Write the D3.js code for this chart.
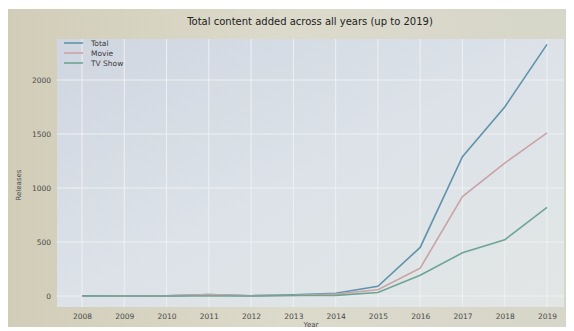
<!DOCTYPE html>
<html><head><meta charset="utf-8">
<script src="https://cdn.jsdelivr.net/npm/d3@7"></script>
<style>html,body{margin:0;padding:0;background:#fff;}svg{display:block;}</style>
</head><body>
<svg id="chart" width="574" height="331"></svg>
<script>
const years = [2008, 2009, 2010, 2011, 2012, 2013, 2014, 2015, 2016, 2017, 2018, 2019];
const totalValues = [2, 2, 1, 13, 3, 11, 25, 90, 450, 1290, 1750, 2330];
const movieValues = [1, 2, 1, 13, 3, 6, 19, 58, 258, 920, 1230, 1510];
const tvValues = [1, 0, 0, 0, 0, 5, 6, 32, 192, 400, 520, 820];
const yTicks = [0, 500, 1000, 1500, 2000];
const seriesNames = ["Total", "Movie", "TV Show"];
const seriesColors = ["#5f93ab", "#c9a3a6", "#6ea592"];

const svg = d3.select("#chart");
const defs = svg.append("defs");
const bg = defs.append("linearGradient").attr("id","bg").attr("x1","0").attr("x2","1").attr("y1","0").attr("y2","0");
bg.append("stop").attr("offset","0").attr("stop-color","#d1cdb8");
bg.append("stop").attr("offset","0.5").attr("stop-color","#dcdacb");
bg.append("stop").attr("offset","1").attr("stop-color","#d6d6c9");
const pg = defs.append("linearGradient").attr("id","pg").attr("x1","0").attr("x2","1").attr("y1","0").attr("y2","1");
pg.append("stop").attr("offset","0").attr("stop-color","#d0d6e1");
pg.append("stop").attr("offset","0.5").attr("stop-color","#dce2e8");
pg.append("stop").attr("offset","1").attr("stop-color","#e2e6e5");

svg.append("rect").attr("x",8).attr("y",9).attr("width",558).attr("height",318).attr("fill","url(#bg)");

const m = {left:57, top:39, right:564, bottom:307};
svg.append("rect").attr("x",m.left).attr("y",m.top).attr("width",m.right-m.left).attr("height",m.bottom-m.top).attr("fill","url(#pg)");

const x = d3.scaleLinear().domain([2008, 2019]).range([82, 547]);
const y = d3.scaleLinear().domain([0, 2000]).range([296, 80]);

const font = "DejaVu Sans, sans-serif";

// gridlines
const g = svg.append("g");
g.selectAll(".vg").data(years).join("line")
  .attr("x1", d=>x(d)).attr("x2", d=>x(d)).attr("y1", m.top).attr("y2", m.bottom)
  .attr("stroke","#eef1f2").attr("stroke-width",1);
g.selectAll(".hg").data(yTicks).join("line")
  .attr("x1", m.left).attr("x2", m.right).attr("y1", d=>y(d)).attr("y2", d=>y(d))
  .attr("stroke","#eef1f2").attr("stroke-width",1);

// axes
const xAxis = d3.axisBottom(x).tickValues(years).tickFormat(d3.format("d")).tickSize(0).tickPadding(7);
const xa = svg.append("g").attr("transform",`translate(0,${m.bottom})`).call(xAxis);
xa.select(".domain").remove();
xa.selectAll("text").attr("font-family",font).attr("font-size",7.5).attr("fill","#4a4a4a");

const yAxis = d3.axisLeft(y).tickValues(yTicks).tickFormat(d3.format("d")).tickSize(0).tickPadding(6);
const ya = svg.append("g").attr("transform",`translate(${m.left},0)`).call(yAxis);
ya.select(".domain").remove();
ya.selectAll("text").attr("font-family",font).attr("font-size",7.5).attr("fill","#4a4a4a");

svg.append("text").attr("x", 311).attr("y", 327).attr("text-anchor","middle")
  .attr("font-family",font).attr("font-size",7).attr("fill","#4a4a4a").text("Year");
svg.append("text").attr("transform","translate(21,185) rotate(-90)").attr("text-anchor","middle")
  .attr("font-family",font).attr("font-size",7).attr("fill","#4a4a4a").text("Releases");

svg.append("text").attr("x", 310).attr("y", 25).attr("text-anchor","middle")
  .attr("font-family",font).attr("font-size",10).attr("fill","#222").text("Total content added across all years (up to 2019)");

// lines
const series = [totalValues, movieValues, tvValues];
const line = d3.line().x((d,i)=>x(years[i])).y(d=>y(d));
svg.append("g").selectAll("path").data(series).join("path")
  .attr("d", d=>line(d)).attr("fill","none")
  .attr("stroke",(d,i)=>seriesColors[i]).attr("stroke-width",1.6);

// legend
const lg = svg.append("g").attr("transform","translate(64,43)");
const li = lg.selectAll("g").data(seriesNames).join("g").attr("transform",(d,i)=>`translate(0,${i*10})`);
li.append("line").attr("x1",0).attr("x2",19).attr("y1",0).attr("y2",0).attr("stroke",(d,i)=>seriesColors[i]).attr("stroke-width",1.6);
li.append("text").attr("x",27).attr("y",3).attr("font-family",font).attr("font-size",7.5).attr("fill","#3a3a3a").text(d=>d);
</script>
</body></html>
